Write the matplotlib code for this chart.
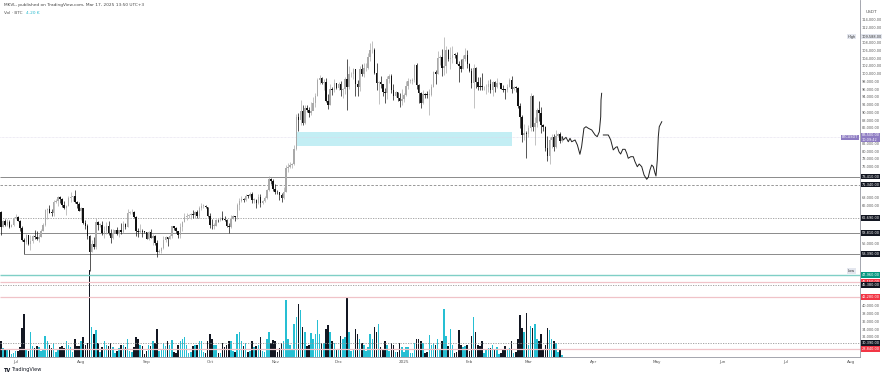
import numpy as np
import pandas as pd
import matplotlib
matplotlib.use("Agg")
import matplotlib.pyplot as plt

# daily BTCUSDT candles, 2024-06-24 .. 2025-03-17 (prices in thousands)
first_open = 64.25
closes = [
    60.3, 61.8, 60.85, 61.6, 60.3, 60.9, 62.7,
    62.85, 62.0, 60.2, 57.0, 56.6, 58.2, 55.85, 56.7, 58.0, 57.7, 57.3, 57.9, 59.2, 60.8, 64.7, 65.0,
    64.1, 63.95, 66.7, 67.15, 68.2, 67.55, 65.95, 65.4, 65.8, 67.9, 68.0, 68.25, 66.8, 66.2, 64.6,
    65.35, 61.5, 60.7, 58.1, 54.0, 56.05, 55.1, 61.7, 60.9, 60.9, 58.7, 59.35, 60.6, 58.7, 57.55, 58.9,
    59.5, 58.45, 59.5, 59.0, 61.15, 60.4, 64.05, 64.2, 64.25, 62.85, 59.45, 59.0, 59.4, 59.1, 58.95,
    57.3, 59.1, 57.5, 57.95, 56.15, 53.95, 54.15, 54.85, 57.0, 57.65, 57.35, 58.1, 60.55, 60.0, 59.2,
    58.2, 60.3, 61.75, 62.95, 63.2, 63.35, 63.6, 63.35, 64.3, 63.15, 65.2, 65.8, 65.85, 65.6, 63.3,
    60.8, 60.65, 60.75, 62.1, 62.05, 62.8, 62.2, 62.15, 60.6, 60.3, 62.45, 63.2, 62.85, 66.05, 67.0,
    67.6, 67.4, 68.4, 68.35, 69.0, 67.35, 67.4, 66.65, 68.2, 66.6, 67.0, 67.95, 69.9, 72.7, 72.3, 70.2,
    69.5, 69.3, 68.75, 67.8, 69.35, 75.6, 75.85, 76.5, 76.65, 80.4, 88.7, 87.95, 90.4, 87.35, 91.05,
    90.6, 89.85, 90.45, 92.3, 94.3, 98.35, 98.9, 97.7, 97.9, 93.0, 91.95, 95.95, 95.65, 97.45, 96.4,
    97.3, 95.85, 96.0, 98.6, 96.6, 99.85, 99.9, 101.1, 97.35, 96.6, 101.1, 100.0, 101.4, 101.4, 104.3,
    106.05, 106.1, 100.2, 97.45, 97.75, 97.2, 95.2, 94.9, 98.7, 99.4, 95.8, 94.15, 95.15, 93.7, 92.8, 93.55,
    94.6, 96.9, 98.1, 98.2, 98.35, 102.25, 96.95, 95.05, 92.5, 94.7, 94.55, 94.5, 94.5, 96.5, 100.5,
    99.99, 104.1, 104.4, 101.35, 102.0, 106.15, 103.65, 103.95, 104.8, 104.7, 102.6, 102.05, 101.3, 103.7, 104.7, 102.4,
    100.65, 97.7, 101.4, 97.85, 96.6, 96.55, 96.45, 96.45, 96.5, 97.4, 95.75, 97.85, 96.6, 97.5,
    97.55, 96.1, 95.75, 95.65, 96.65, 98.3, 96.15, 96.55, 96.2, 91.55, 88.7, 84.25, 84.7, 84.35,
    86.05, 94.3, 86.1, 87.2, 90.6, 89.9, 86.75, 86.15, 80.75, 78.6, 82.9, 83.7, 81.05, 83.95, 84.35, 82.6, 83.5,
]
highs = [
    64.5, 62.3, 62.5, 62.4, 62.2, 61.2, 63.0,
    63.8, 63.3, 62.3, 60.5, 57.5, 58.5, 58.2, 58.2, 58.3, 59.5, 59.4, 58.5, 59.8, 61.4, 64.9, 65.4,
    66.1, 65.1, 67.4, 67.6, 68.4, 68.5, 67.8, 67.1, 66.1, 68.3, 69.4, 68.3, 70.0, 67.0, 66.8,
    65.6, 65.0, 62.2, 61.1, 58.3, 57.0, 57.7, 62.7, 61.8, 61.5, 61.8, 60.7, 61.6, 61.8, 59.8, 59.8,
    59.6, 60.3, 59.6, 61.4, 61.8, 61.4, 64.9, 64.5, 65.0, 64.5, 63.2, 60.2, 61.2, 59.9, 59.4,
    59.1, 59.4, 59.8, 58.5, 58.3, 56.9, 54.8, 55.3, 58.1, 58.0, 57.9, 58.6, 60.6, 60.6, 60.4,
    59.2, 61.3, 61.8, 63.9, 64.1, 63.6, 64.0, 64.8, 64.5, 64.8, 65.8, 66.5, 66.3, 66.1, 65.6,
    64.1, 62.4, 61.5, 62.5, 62.4, 63.0, 64.5, 63.2, 62.5, 61.3, 63.4, 63.5, 63.3, 66.5, 67.9,
    68.4, 67.9, 68.9, 68.7, 69.4, 69.5, 67.8, 67.5, 68.8, 68.8, 67.4, 68.3, 70.2, 73.6, 72.9, 72.7,
    71.6, 70.0, 69.4, 69.1, 70.6, 76.4, 76.9, 77.2, 76.9, 81.5, 89.5, 89.9, 93.3, 91.8, 91.9,
    91.8, 91.5, 92.6, 94.0, 94.9, 98.9, 99.6, 99.0, 98.7, 98.9, 94.8, 97.2, 96.6, 98.7, 97.6,
    97.9, 98.1, 96.3, 99.0, 103.9, 101.9, 100.5, 101.4, 101.2, 98.3, 101.9, 102.5, 102.7, 102.7, 105.2,
    107.8, 108.35, 106.5, 102.8, 98.0, 99.5, 97.4, 96.4, 99.4, 99.9, 99.9, 97.3, 95.5, 95.2, 94.9, 96.1,
    94.9, 98.0, 98.9, 98.7, 98.8, 102.5, 102.7, 97.3, 95.3, 95.8, 95.0, 95.4, 95.9, 97.4, 100.7,
    100.9, 105.9, 104.9, 106.3, 109.588, 107.2, 106.3, 106.85, 107.1, 105.3, 105.5, 103.2, 103.8, 104.8, 106.5, 106.0,
    102.8, 101.5, 102.5, 101.7, 99.0, 99.2, 100.1, 96.9, 97.3, 98.3, 98.5, 98.1, 98.0, 98.8,
    97.9, 97.7, 97.0, 96.0, 97.3, 98.8, 99.5, 96.9, 96.7, 96.5, 92.5, 89.3, 87.1, 85.1,
    86.6, 95.0, 94.4, 88.9, 91.0, 92.8, 91.3, 86.9, 86.5, 84.0, 83.6, 84.4, 84.3, 85.3, 84.7, 85.0, 84.0,
]
lows = [
    58.4, 60.25, 60.65, 60.6, 60.0, 60.3, 60.65,
    62.5, 61.8, 59.4, 56.8, 53.5, 56.0, 55.8, 54.3, 56.2, 57.2, 56.9, 56.5, 57.8, 59.2, 60.6, 62.4,
    63.9, 63.2, 63.3, 66.6, 65.8, 66.6, 65.5, 65.1, 63.4, 65.8, 66.7, 67.1, 66.5, 65.3, 64.5,
    62.3, 61.2, 59.8, 57.2, 49.0, 53.9, 54.6, 54.7, 59.6, 60.3, 58.4, 57.6, 58.5, 58.4, 56.1, 57.3,
    58.8, 58.4, 57.8, 58.6, 58.8, 59.8, 60.3, 63.6, 63.8, 62.8, 58.1, 57.9, 58.8, 57.8, 58.7,
    57.2, 57.1, 57.4, 55.6, 55.7, 52.55, 53.7, 53.6, 54.6, 56.4, 55.5, 57.3, 57.6, 59.5, 58.7,
    57.5, 57.6, 59.2, 61.6, 62.3, 62.8, 62.4, 62.7, 62.7, 62.7, 62.7, 64.8, 65.4, 65.4, 62.9,
    60.2, 59.8, 59.9, 60.5, 61.7, 61.8, 62.1, 61.8, 60.3, 58.9, 60.0, 62.4, 62.0, 62.4, 64.8,
    66.7, 66.7, 67.1, 67.9, 68.1, 66.6, 66.5, 65.3, 66.4, 65.5, 66.4, 66.7, 67.5, 69.7, 71.4, 69.7,
    68.8, 69.0, 67.4, 66.8, 67.5, 69.3, 74.5, 75.6, 75.7, 76.5, 80.2, 85.1, 86.7, 86.7, 87.1,
    90.1, 88.7, 89.4, 90.8, 91.5, 94.1, 97.2, 97.2, 95.7, 92.6, 90.8, 91.8, 94.6, 95.3, 96.0,
    95.7, 94.2, 93.6, 94.7, 90.5, 95.9, 99.1, 98.7, 94.2, 94.3, 95.5, 99.3, 99.2, 100.6, 101.2,
    103.3, 105.3, 100.0, 95.7, 92.2, 96.4, 94.2, 92.4, 93.4, 97.6, 95.1, 93.2, 94.0, 93.0, 91.3, 92.0,
    92.7, 94.2, 96.0, 97.5, 97.2, 97.9, 96.1, 92.5, 91.2, 92.2, 93.8, 93.7, 89.25, 94.3, 96.5,
    97.3, 99.95, 102.3, 99.5, 99.55, 100.1, 103.3, 101.2, 102.75, 104.1, 102.5, 97.8, 100.3, 101.3, 103.3, 101.5,
    100.3, 96.2, 91.2, 96.2, 95.7, 95.7, 95.65, 95.7, 94.7, 95.3, 94.9, 94.1, 95.2, 96.3,
    97.2, 96.05, 95.2, 93.4, 95.2, 96.5, 94.9, 95.7, 95.2, 91.2, 86.05, 82.25, 82.8, 78.2,
    83.7, 85.1, 85.05, 81.5, 86.3, 87.8, 84.7, 85.2, 80.0, 77.5, 76.6, 80.8, 79.9, 80.8, 83.6, 82.0, 82.4,
]
# volume, thousands of BTC
volumes = [
    40, 22, 18, 17, 20, 7, 10,
    14, 15, 25, 70, 105, 18, 14, 60, 27, 22, 28, 25, 14, 20, 52, 40, 30, 22, 35, 12, 18, 25, 28, 22,
    38, 30, 25, 12, 45, 28, 27,
    40, 48, 30, 35, 212, 73, 55, 65, 35, 12, 25, 38, 30, 28, 35, 25, 10, 14, 22, 30, 30, 25, 45,
    15, 12, 25, 48, 45, 30, 28, 8,
    15, 30, 28, 40, 35, 69, 15, 16, 35, 28, 40, 30, 42, 12, 10, 30, 38, 45, 48, 30, 10, 12, 28,
    30, 30, 38, 40, 12, 10, 40,
    57, 45, 30, 30, 10, 10, 35, 25, 30, 40, 38, 14, 12, 55, 60, 40, 28, 35, 12, 15, 40, 25, 28,
    30, 48, 14, 12, 45, 60, 35, 42,
    40, 12, 22, 35, 40, 138, 45, 30, 18, 80, 98, 128, 115, 73, 60, 28, 30, 58, 45, 55, 90, 55, 35,
    35, 69, 77, 60, 40, 35, 20,
    20, 50, 45, 49, 144, 60, 15, 20, 69, 55, 45, 35, 30, 15, 25, 55, 45, 73, 60, 81, 25, 20, 40,
    30, 15, 35, 30, 12, 12, 35, 25,
    12, 25, 25, 10, 10, 35, 43, 43, 40, 35, 10, 12, 53, 30, 35, 30, 45, 20, 40, 118, 50, 28, 69,
    30, 10, 12, 65, 30, 25, 28, 30,
    15, 50, 98, 60, 30, 28, 38, 10, 18, 22, 22, 30, 20, 25, 8, 10, 18, 28, 20, 22, 40, 10, 12,
    45, 102, 70, 60, 108,
    30, 75, 70, 80, 45, 40, 55, 20, 30, 70, 65, 45, 40, 35, 12, 20, 4.2,
]

# hand drawn projection after the last candle: (days after last candle, price)
path1_days = [0, 0.5, 1.8, 2.9, 3.7, 4.5, 6.1, 7.2, 8.4, 9.2, 10.3, 11.3, 12.4, 14.0, 15.6, 16.6, 17.6,
              18.25, 18.4, 18.7]
path1_price = [83.7, 82.85, 83.54, 82.4, 83.28, 82.4, 82.85, 81.55, 79.15, 81.11, 85.87, 86.28, 85.87,
               85.43, 84.14, 83.7, 84.99, 88.86, 93.18, 94.91]
path2_days = [19.5, 21.85, 23.0, 24.2, 25.4, 26.1, 26.9, 27.7, 28.7, 29.8, 30.6, 31.3, 32.5, 33.7, 34.5,
              35.6, 36.5, 37.7, 38.8, 40.05, 40.8, 41.6, 42.4, 43.2, 44.0, 44.45, 45.07, 45.55, 46.0, 47.2]
path2_price = [84.14, 84.14, 82.85, 80.29, 80.96, 81.11, 79.82, 79.22, 80.44, 80.44, 79.41, 78.12, 78.53,
               78.53, 77.24, 75.94, 76.64, 75.94, 73.8, 72.69, 73.21, 75.09, 76.38, 75.94, 74.24, 73.54,
               77.67, 83.7, 86.28, 87.57]

# zone and horizontal levels (thousands)
zone_start, zone_end = "2024-11-11", "2025-02-21"
zone_low, zone_high = 81.3, 84.9
level_prices = [73.41, 71.34, 62.69, 58.81, 53.39, 47.96, 46.15, 45.38, 42.28, 30.39, 28.84]
level_kinds = ["solid", "dashed", "dotted", "solid", "solid", "teal", "red", "dotted", "red", "dotted", "red"]
level_start = [None, None, None, None, "2024-07-05", None, None, None, None, None, None]
ath_price = 109.588
low_price = 49.0

start = pd.Timestamp("2024-06-24")
ref = pd.Timestamp("2024-07-01")
n = len(closes)
days = np.arange(n) + (start - ref).days
closes = np.array(closes)
opens = np.concatenate([[first_open], closes[:-1]])
highs = np.array(highs)
lows = np.array(lows)
volumes = np.array(volumes)

up_c, dn_c = "#a9a9a9", "#111111"
vol_up, vol_dn = "#26bfd3", "#131722"
is_up = closes >= opens

fig = plt.figure(figsize=(8.82, 3.75), dpi=100)
ax = fig.add_axes([0, 18 / 375, 860 / 882, 357 / 375])
ax2 = ax.twinx()
ax.set_zorder(ax2.get_zorder() + 1)
ax.patch.set_visible(False)

x0, x1 = -7.44, 400.14
ax.set_xlim(x0, x1)
ax.set_ylim(26.77, 119.02)
ax2.set_ylim(0, 870)
ax2.axis("off")

# volume
ax2.bar(days, volumes, width=0.72, color=np.where(is_up, vol_up, vol_dn), lw=0)

# zone
zs = (pd.Timestamp(zone_start) - ref).days
ze = (pd.Timestamp(zone_end) - ref).days
ax.add_patch(plt.Rectangle((zs, zone_low), ze - zs, zone_high - zone_low, fc="#c3eef4", ec="none", zorder=1))

# levels
for p, kind, st in zip(level_prices, level_kinds, level_start):
    xs = x0 if st is None else (pd.Timestamp(st) - ref).days
    if kind == "teal":
        ax.hlines(p, xs, x1, color="#7fcfc6", lw=1.0, zorder=2)
    elif kind == "red":
        ax.hlines(p, xs, x1, color="#f0c3c8", lw=0.9, zorder=2)
    elif kind == "dashed":
        ax.hlines(p, xs, x1, color="#888888", lw=0.6, ls=(0, (3, 2)), zorder=2)
    elif kind == "dotted":
        ax.hlines(p, xs, x1, color="#999999", lw=0.6, ls=(0, (1.5, 1.5)), zorder=2)
    else:
        ax.hlines(p, xs, x1, color="#8a8a8a", lw=0.7, zorder=2)

last = closes[-1]
ax.hlines(last, x0, x1, color="#ded8ea", lw=0.5, ls=(0, (1, 1)), zorder=2)

# candles
cols = np.where(is_up, up_c, dn_c)
ax.vlines(days, lows, highs, colors=cols, lw=0.5, zorder=3)
body = closes - opens
body = np.where(np.abs(body) < 0.15, 0.15, body)
ax.bar(days, body, bottom=opens, width=0.7, color=cols, lw=0, zorder=4)

# projection drawing
d_last = days[-1]
ax.plot(d_last + np.array(path1_days), path1_price, color="#222222", lw=0.7, zorder=5)
ax.plot(d_last + np.array(path2_days), path2_price, color="#222222", lw=0.7, zorder=5)

# axes styling
for s in ["top", "left"]:
    ax.spines[s].set_visible(False)
for s in ["right", "bottom"]:
    ax.spines[s].set_color("#9598a1")
    ax.spines[s].set_linewidth(0.6)

fs = 2.5
months = pd.date_range("2024-07-01", "2025-08-01", freq="MS")
ax.set_xticks([(m - ref).days for m in months])
ax.set_xticklabels(["2025" if m.month == 1 else m.strftime("%b") for m in months])
ax.tick_params(axis="x", length=0, labelsize=3.0, colors="#555555", pad=2.5)

special = [ath_price, last, low_price] + level_prices
yt = [v for v in range(28, 116, 2) if all(abs(v - s) > 1.4 for s in special)]
ax.yaxis.tick_right()
ax.set_yticks(yt)
ax.set_yticklabels([f"{v * 1000:,.2f}" for v in yt])
ax.tick_params(axis="y", length=0, labelsize=fs, colors="#555555", pad=1.2)


def price_tag(p, text, fc, tc="white"):
    ax.annotate(text, xy=(1.002, p), xycoords=("axes fraction", "data"), ha="left", va="center",
                fontsize=fs, color=tc, annotation_clip=False, linespacing=1.1,
                bbox=dict(boxstyle="square,pad=0.2", fc=fc, ec="none"))


for p, kind in zip(level_prices, level_kinds):
    fc = {"teal": "#089981", "red": "#f23645"}.get(kind, "#131722")
    price_tag(p, f"{p * 1000:,.2f}", fc)
price_tag(ath_price, f"{ath_price * 1000:,.2f}", "#e3e6ee", "#333333")
price_tag(last, f"{last * 1000:,.2f}\n10:09:42", "#8e7cc3")
ax.annotate("High", xy=(0.99, ath_price), xycoords=("axes fraction", "data"), ha="center", va="center",
            fontsize=fs, color="#333333", bbox=dict(boxstyle="square,pad=0.2", fc="#e3e6ee", ec="none"))
ax.annotate("Low", xy=(0.99, low_price), xycoords=("axes fraction", "data"), ha="center", va="center",
            fontsize=fs, color="#333333", bbox=dict(boxstyle="square,pad=0.2", fc="#e3e6ee", ec="none"))
ax.annotate("BTCUSDT", xy=(0.9975, last), xycoords=("axes fraction", "data"), ha="right", va="center",
            fontsize=fs, color="white", bbox=dict(boxstyle="square,pad=0.2", fc="#8e7cc3", ec="none"))

# header / footer
fig.text(4 / 882, 1 - 5 / 375, "MKVL, published on TradingView.com, Mar 17, 2025 13:50 UTC+3",
         fontsize=3.1, color="#444444", va="center")
fig.text(4 / 882, 1 - 13 / 375, "Vol · BTC", fontsize=3.1, color="#555555", va="center")
fig.text(26 / 882, 1 - 13 / 375, "4.20 K", fontsize=3.1, color="#22b8cc", va="center")
fig.text(866 / 882, 1 - 12 / 375, "USDT", fontsize=3.1, color="#555555", va="center")
fig.text(4 / 882, 1 - 370 / 375, "TV", fontsize=3.6, color="#131722", weight="bold", va="center")
fig.text(11 / 882, 1 - 370 / 375, "TradingView", fontsize=3.6, color="#131722", va="center")

fig.savefig("out.png", dpi=100, facecolor="white")
